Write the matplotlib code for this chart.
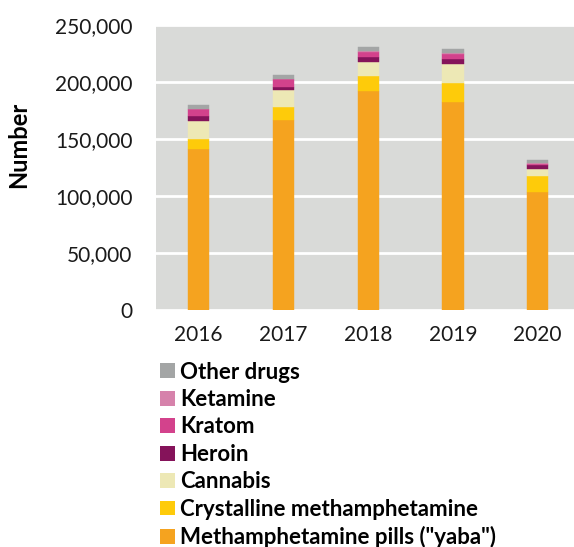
import matplotlib.pyplot as plt
import numpy as np
from matplotlib.patches import Patch
from matplotlib.ticker import FuncFormatter

# -----------------------------
# DATA
# -----------------------------

years = ["2016", "2017", "2018", "2019", "2020"]

yaba = [141200, 166500, 191500, 182500, 103100]
crystal_meth = [8700, 10800, 13100, 16600, 13700]
cannabis = [15700, 15100, 12800, 16600, 6900]
heroin = [4100, 2900, 3800, 3800, 3500]
kratom = [5900, 6800, 5200, 4800, 700]
ketamine = [500, 500, 600, 700, 500]
other_drugs = [3200, 2900, 3200, 3200, 2600]

series_names = [
    'Methamphetamine pills ("yaba")',
    "Crystalline methamphetamine",
    "Cannabis",
    "Heroin",
    "Kratom",
    "Ketamine",
    "Other drugs",
]
series_values = [yaba, crystal_meth, cannabis, heroin, kratom, ketamine, other_drugs]
colors = ["#F5A31F", "#FECB0A", "#EDE8B5", "#85135A", "#D3428C", "#D682AB", "#A3A5A5"]

# -----------------------------
# PLOT
# -----------------------------

plt.rcParams["font.family"] = ["Lato", "DejaVu Sans"]

fig = plt.figure(figsize=(5.74, 5.47), dpi=100)
ax = fig.add_axes([0.272, 0.434, 0.7387, 0.521])
ax.set_facecolor("#D9DAD8")

x = np.arange(len(years))
bottom = np.zeros(len(years))
for name, vals, col in zip(series_names, series_values, colors):
    vals = np.array(vals, dtype=float)
    ax.bar(x, vals, width=0.25, bottom=bottom, color=col, label=name,
           edgecolor=col, linewidth=0.3, zorder=3)
    bottom += vals

ax.set_xlim(-0.5, 4.5)
ax.set_ylim(0, 250000)
ax.set_yticks(np.arange(0, 250001, 50000))
ax.yaxis.set_major_formatter(FuncFormatter(lambda v, p: f"{int(v):,}"))
ax.set_xticks(x)
ax.set_xticklabels(years)
ax.grid(axis="y", color="white", linewidth=2, zorder=1)
ax.set_axisbelow(True)
for s in ax.spines.values():
    s.set_visible(False)
ax.tick_params(axis="both", length=0, labelsize=15, colors="#1a1a1a")
ax.tick_params(axis="y", pad=17)
ax.tick_params(axis="x", pad=11)

ax.set_ylabel("Number", fontsize=17, fontweight="bold")
ax.yaxis.set_label_coords(-0.298, 0.577)

handles = [Patch(facecolor=c, edgecolor="none") for c in colors]
leg = fig.legend(handles[::-1], series_names[::-1], loc="upper left",
                 bbox_to_anchor=(0.279, 0.339), frameon=False,
                 prop={"size": 16, "weight": "bold"},
                 handlelength=0.65, handleheight=0.65, handletextpad=0.25,
                 labelspacing=0.29, borderaxespad=0, borderpad=0)

fig.savefig("out.png", dpi=100)
